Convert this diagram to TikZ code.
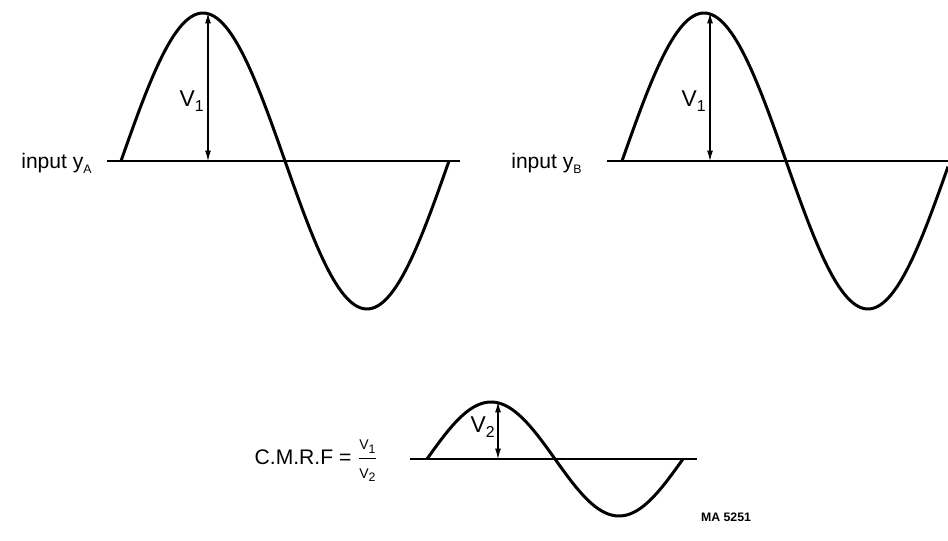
\documentclass[tikz,border=0pt]{standalone}
\usepackage{amsmath}
\usepackage{fontspec}
\setmainfont{Liberation Sans}
\usetikzlibrary{arrows.meta,positioning}

\newcommand\lowidx[1]{\raisebox{-0.45ex}{\small #1}}

\begin{document}
\begin{tikzpicture}[x=0.02cm, y=-0.02cm,
  wave/.style={line width=1.7pt, line join=round},
  axis/.style={line width=0.85pt},
  dim/.style={line width=0.6pt, {Latex[length=2.1mm,width=1.2mm]}-{Latex[length=2.1mm,width=1.2mm]}},
  lbl/.style={inner sep=0pt, font=\fontsize{12}{14}\selectfont},
  vlbl/.style={inner sep=0pt, font=\fontsize{13}{15}\selectfont}]
\useasboundingbox (0,0) rectangle (948,541);

% top left: input A
\coordinate (axAl) at (107,161);
\coordinate (axAr) at (460,161);
\coordinate (baseA) at (208,161);
\coordinate (peakA) at (208,13);
\draw[axis] (axAl) -- (axAr);
\draw[wave] plot[domain=0:328, samples=120] ({121+\x},{161-148*sin(1.09756*\x)});
\draw[dim] (baseA) -- (peakA);
\node[lbl, anchor=east] (inA) at (92,163) {input y\lowidx{\scriptsize A}};
\node[vlbl, anchor=east] (vA) at (204,101) {V\lowidx{1}};

% top right: input B
\coordinate (axBl) at (607,161);
\coordinate (axBr) at (948,161);
\coordinate (baseB) at (710,161);
\coordinate (peakB) at (710,13);
\draw[axis] (axBl) -- (axBr);
\draw[wave] plot[domain=0:326, samples=120] ({622+\x},{161-148*sin(1.09756*\x)});
\draw[dim] (baseB) -- (peakB);
\node[lbl, anchor=east] (inB) at (582,163) {input y\lowidx{\scriptsize B}};
\node[vlbl, anchor=east] (vB) at (706,101) {V\lowidx{1}};

% bottom: common mode result
\coordinate (axCl) at (410,459);
\coordinate (axCr) at (697,459);
\coordinate (baseC) at (498,459);
\coordinate (peakC) at (498,402);
\draw[axis] (axCl) -- (axCr);
\draw[wave] plot[domain=0:256, samples=100] ({427+\x},{459-57*sin(1.40625*\x)});
\draw[dim] (baseC) -- (peakC);
\node[vlbl, anchor=east] (vC) at (495,427) {V\lowidx{2}};
\node[lbl, anchor=east] (cmrf) at (378,461)
  {C.M.R.F = $\dfrac{\text{\footnotesize V\lowidx{\scriptsize 1}}}{\text{\footnotesize V\lowidx{\scriptsize 2}}}$};
\node[inner sep=0pt, font=\fontsize{7}{8}\selectfont\bfseries] (ref) at (726,517) {MA 5251};
\end{tikzpicture}
\end{document}
